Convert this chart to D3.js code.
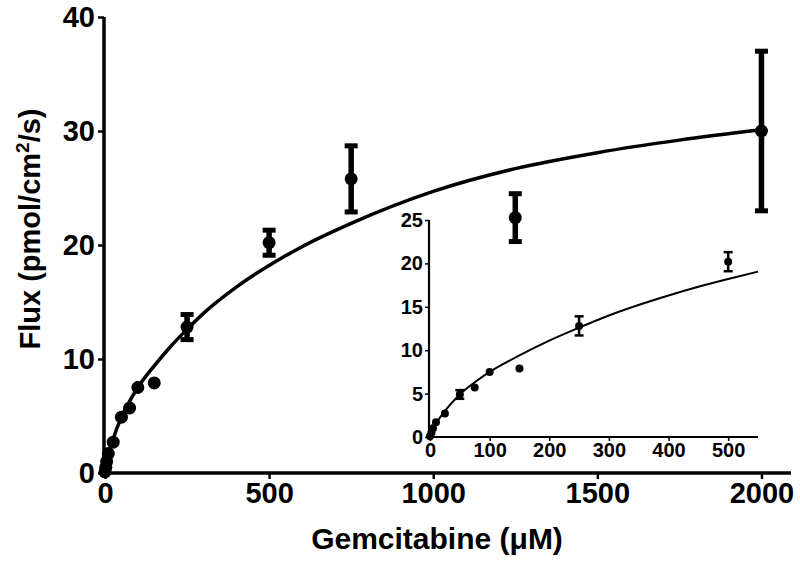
<!DOCTYPE html>
<html>
<head>
<meta charset="utf-8">
<script src="https://cdn.jsdelivr.net/npm/d3@7"></script>
<style>
  body { margin: 0; background: #fff; }
  text { font-family: "Liberation Sans", Arial, sans-serif; font-weight: bold; fill: #000; }
</style>
</head>
<body>
<div id="chart"></div>
<script>
// measured flux vs gemcitabine concentration
const conc = [0, 2.5, 5, 10, 25, 50, 75, 100, 150, 250, 500, 750, 1250, 2000];
const flux = [0.1, 0.5, 1.0, 1.7, 2.7, 4.9, 5.7, 7.5, 7.9, 12.8, 20.2, 25.8, 22.4, 30.0];
const sem  = [0, 0, 0, 0, 0, 0.5, 0, 0, 0, 1.1, 1.1, 2.9, 2.1, 7.0];

// fitted curve
const fitConc = [0, 5, 10, 25, 50, 75, 100, 150, 200, 250, 300, 400, 450, 500, 550, 600, 750, 1000, 1250, 1500, 1750, 2000];
const fitFlux = [0, 0.8, 1.5, 3.0, 4.9, 6.3, 7.5, 9.4, 11.1, 12.6, 14.0, 16.3, 17.3, 18.2, 19.05, 19.85, 21.9, 24.7, 26.7, 28.1, 29.2, 30.1];

const mainXTicks = [0, 500, 1000, 1500, 2000];
const mainYTicks = [0, 10, 20, 30, 40];
const insetXTicks = [0, 100, 200, 300, 400, 500];
const insetYTicks = [0, 5, 10, 15, 20, 25];

const width = 800, height = 575;

const svg = d3.select("#chart").append("svg")
    .attr("width", width)
    .attr("height", height);

const points = conc.map((c, i) => ({x: c, y: flux[i], e: sem[i]}));
const fit = fitConc.map((c, i) => ({x: c, y: fitFlux[i]}));

function drawPanel(opts) {
    const x = d3.scaleLinear().domain(opts.xDomain).range(opts.xRange);
    const y = d3.scaleLinear().domain(opts.yDomain).range(opts.yRange);
    const g = svg.append("g");

    // axes
    const xAxis = d3.axisBottom(x).tickValues(opts.xTicks).tickFormat(d3.format("d"))
        .tickSize(opts.tick).tickPadding(opts.pad).tickSizeOuter(0);
    const yAxis = d3.axisLeft(y).tickValues(opts.yTicks).tickFormat(d3.format("d"))
        .tickSize(opts.tick).tickPadding(opts.pad).tickSizeOuter(0);

    const gx = g.append("g")
        .attr("transform", "translate(0," + opts.yRange[0] + ")")
        .call(xAxis);
    const gy = g.append("g")
        .attr("transform", "translate(" + (opts.xRange[0] - 1) + ",0)")
        .call(yAxis);

    [gx, gy].forEach(a => {
        a.select(".domain").attr("stroke", "#000").attr("stroke-width", opts.axisW);
        a.selectAll(".tick line").attr("stroke", "#000").attr("stroke-width", opts.axisW * 0.7);
        a.selectAll(".tick text").style("font-size", opts.font + "px").attr("fill", "#000");
    });
    gy.select(".domain").attr("d", "M0," + opts.yRange[0] + "V" + opts.yRange[1]);
    gx.select(".domain").attr("d", "M" + (opts.xRange[0] - 2) + ",0H" + opts.xRange[1]);

    // fitted curve
    const line = d3.line()
        .x(d => x(d.x))
        .y(d => y(d.y))
        .curve(d3.curveMonotoneX);
    g.append("path")
        .datum(fit.filter(d => d.x <= opts.xMax))
        .attr("d", line)
        .attr("fill", "none")
        .attr("stroke", "#000")
        .attr("stroke-width", opts.lineW);

    const pts = points.filter(d => d.x <= opts.xMax);

    // error bars (hidden when shorter than the symbol)
    const eb = g.selectAll(".eb")
        .data(pts.filter(d => y(0) - y(d.e) > opts.r))
        .enter().append("g");
    eb.append("line")
        .attr("x1", d => x(d.x)).attr("x2", d => x(d.x))
        .attr("y1", d => y(d.y + d.e)).attr("y2", d => y(d.y - d.e))
        .attr("stroke", "#000").attr("stroke-width", opts.ebW);
    [1, -1].forEach(s => {
        eb.append("line")
            .attr("x1", d => x(d.x) - opts.cap).attr("x2", d => x(d.x) + opts.cap)
            .attr("y1", d => y(d.y + s * d.e)).attr("y2", d => y(d.y + s * d.e))
            .attr("stroke", "#000").attr("stroke-width", opts.capW);
    });

    g.selectAll(".pt").data(pts).enter().append("circle")
        .attr("cx", d => x(d.x))
        .attr("cy", d => y(d.y))
        .attr("r", opts.r)
        .attr("fill", "#000");
}

// main panel
drawPanel({
    xDomain: [0, 2090], xRange: [105, 791],
    yDomain: [0, 40], yRange: [473, 17],
    xTicks: mainXTicks, yTicks: mainYTicks, xMax: 2100,
    tick: 6, pad: 3, font: 29, axisW: 3.5, lineW: 3.5,
    r: 6.5, ebW: 5.5, cap: 6.5, capW: 5
});

// inset panel
drawPanel({
    xDomain: [0, 550], xRange: [430, 758],
    yDomain: [0, 25], yRange: [437, 220],
    xTicks: insetXTicks, yTicks: insetYTicks, xMax: 550,
    tick: 4, pad: 2, font: 20, axisW: 2.2, lineW: 2,
    r: 4, ebW: 2.5, cap: 4.5, capW: 2.5
});

// axis titles
svg.append("text")
    .attr("x", 437)
    .attr("y", 549)
    .attr("text-anchor", "middle")
    .style("font-size", "30px")
    .text("Gemcitabine (\u03bcM)");

const yt = svg.append("text")
    .attr("transform", "translate(40,229) rotate(-90)")
    .attr("text-anchor", "middle")
    .style("font-size", "29px");
yt.append("tspan").text("Flux (pmol/cm");
yt.append("tspan").attr("dy", -11).style("font-size", "19px").text("2");
yt.append("tspan").attr("dy", 11).text("/s)");
</script>
</body>
</html>
